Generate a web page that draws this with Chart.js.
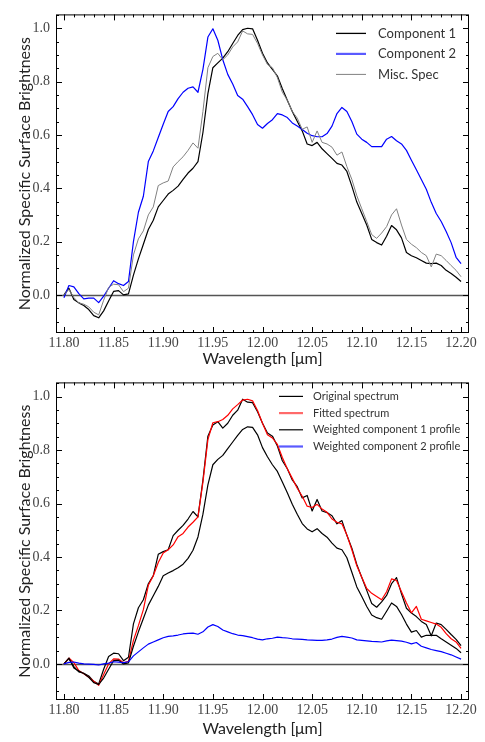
<!DOCTYPE html>
<html>
<head>
<meta charset="utf-8">
<script src="https://cdn.jsdelivr.net/npm/chart.js@4.4.0/dist/chart.umd.min.js"></script>
<style>
  html, body { margin: 0; padding: 0; background: #fff; }
  #wrap { position: relative; width: 485px; height: 742px; }
  canvas { position: absolute; left: 0; }
  #top { top: 0; }
  #bottom { top: 368px; }
</style>
</head>
<body>
<div id="wrap">
  <canvas id="top" width="485" height="368"></canvas>
  <canvas id="bottom" width="485" height="374"></canvas>
</div>
<script>
// wavelength grid (micron)
const wavelength = [
  11.800, 11.805, 11.810, 11.815, 11.820, 11.825, 11.830, 11.835, 11.840, 11.845,
  11.850, 11.855, 11.860, 11.865, 11.870, 11.875, 11.880, 11.885, 11.890, 11.895,
  11.900, 11.905, 11.910, 11.915, 11.920, 11.925, 11.930, 11.935, 11.940, 11.945,
  11.950, 11.955, 11.960, 11.965, 11.970, 11.975, 11.980, 11.985, 11.990, 11.995,
  12.000, 12.005, 12.010, 12.015, 12.020, 12.025, 12.030, 12.035, 12.040, 12.045,
  12.050, 12.055, 12.060, 12.065, 12.070, 12.075, 12.080, 12.085, 12.090, 12.095,
  12.100, 12.105, 12.110, 12.115, 12.120, 12.125, 12.130, 12.135, 12.140, 12.145,
  12.150, 12.155, 12.160, 12.165, 12.170, 12.175, 12.180, 12.185, 12.190, 12.195,
  12.200
];

const component1 = [
  0.0, 0.025, -0.017, -0.03, -0.04, -0.055, -0.078, -0.086, -0.06, -0.023,
  0.013, 0.016, 0.0, 0.004, 0.074, 0.135, 0.19, 0.245, 0.28, 0.33,
  0.354, 0.378, 0.392, 0.408, 0.433, 0.457, 0.475, 0.5, 0.609, 0.755,
  0.852, 0.87, 0.888, 0.912, 0.943, 0.973, 0.995, 1.0, 0.998, 0.955,
  0.906, 0.87, 0.846, 0.821, 0.773, 0.73, 0.688, 0.651, 0.615, 0.566,
  0.56, 0.572, 0.548, 0.53, 0.512, 0.493, 0.487, 0.463, 0.408, 0.348,
  0.305, 0.262, 0.208, 0.196, 0.187, 0.22, 0.26, 0.244, 0.214, 0.159,
  0.147, 0.139, 0.129, 0.119, 0.117, 0.119, 0.11, 0.092, 0.08, 0.066,
  0.05
];

const component2 = [
  -0.011, 0.035, 0.03, 0.005, -0.015, -0.012, -0.012, -0.029, -0.005, 0.025,
  0.053, 0.042, 0.035, 0.05, 0.2, 0.31, 0.37, 0.5, 0.54, 0.59,
  0.64, 0.688, 0.706, 0.736, 0.76, 0.775, 0.78, 0.76, 0.846, 0.967,
  0.998, 0.955, 0.882, 0.827, 0.791, 0.748, 0.734, 0.706, 0.676, 0.639,
  0.625, 0.643, 0.657, 0.68, 0.675, 0.665, 0.645, 0.633, 0.62, 0.606,
  0.597, 0.593, 0.593, 0.605, 0.633, 0.68, 0.703, 0.688, 0.65, 0.603,
  0.584, 0.572, 0.556, 0.556, 0.556, 0.584, 0.594, 0.578, 0.566, 0.542,
  0.505, 0.469, 0.433, 0.396, 0.347, 0.305, 0.275, 0.238, 0.196, 0.141,
  0.117
];

// observed spectrum ("Misc. Spec" on top, "Original spectrum" below)
const miscSpec = [
  0.0, 0.02, -0.01, -0.03, -0.035, -0.045, -0.065, -0.075, -0.02, 0.028,
  0.04, 0.038, 0.012, 0.025, 0.15, 0.21, 0.24, 0.3, 0.33, 0.41,
  0.42, 0.427, 0.48, 0.5, 0.518, 0.542, 0.57, 0.55, 0.688, 0.852,
  0.894, 0.906, 0.882, 0.9, 0.93, 0.949, 0.99, 0.979, 0.977, 0.943,
  0.9, 0.864, 0.852, 0.815, 0.76, 0.73, 0.688, 0.663, 0.621, 0.63,
  0.572, 0.615, 0.572, 0.566, 0.554, 0.524, 0.536, 0.481, 0.433, 0.372,
  0.323, 0.275, 0.226, 0.212, 0.232, 0.256, 0.30, 0.323, 0.262, 0.208,
  0.19, 0.177, 0.159, 0.147, 0.105, 0.153, 0.147, 0.129, 0.11, 0.092,
  0.068
];

const fitted = [
  0.0, 0.022, 0.005, -0.025, -0.037, -0.05, -0.065, -0.08, -0.04, 0.0,
  0.019, 0.018, 0.004, 0.01, 0.088, 0.143, 0.203, 0.294, 0.33, 0.379,
  0.415, 0.427, 0.445, 0.476, 0.488, 0.512, 0.53, 0.55, 0.68, 0.839,
  0.902, 0.906, 0.914, 0.93, 0.954, 0.97, 0.987, 0.99, 0.984, 0.948,
  0.9, 0.857, 0.845, 0.821, 0.772, 0.73, 0.694, 0.657, 0.627, 0.59,
  0.585, 0.597, 0.579, 0.567, 0.542, 0.53, 0.524, 0.482, 0.427, 0.367,
  0.324, 0.282, 0.264, 0.252, 0.24, 0.27, 0.318, 0.312, 0.27, 0.228,
  0.191, 0.215, 0.167, 0.161, 0.155, 0.149, 0.137, 0.113, 0.094, 0.082,
  0.058
];

const weighted1 = [
  0.0, 0.022, -0.015, -0.027, -0.036, -0.05, -0.07, -0.077, -0.053, -0.02,
  0.012, 0.014, 0.0, 0.004, 0.066, 0.12, 0.17, 0.22, 0.255, 0.29,
  0.33, 0.34, 0.349, 0.36, 0.373, 0.395, 0.425, 0.475, 0.56, 0.67,
  0.745, 0.765, 0.78, 0.805, 0.83, 0.855, 0.877, 0.887, 0.885, 0.857,
  0.809, 0.775, 0.745, 0.72, 0.68, 0.64, 0.597, 0.56, 0.525, 0.505,
  0.494, 0.506, 0.488, 0.474, 0.452, 0.433, 0.427, 0.397, 0.343, 0.288,
  0.252, 0.215, 0.183, 0.173, 0.167, 0.197, 0.228, 0.215, 0.185, 0.149,
  0.119, 0.125, 0.1, 0.107, 0.107, 0.107, 0.094, 0.082, 0.07, 0.058,
  0.042
];

const weighted2 = [
  0.0, 0.006, 0.007, 0.003, 0.0, -0.001, -0.002, -0.004, 0.0, 0.003,
  0.008, 0.007, 0.005, 0.008, 0.03, 0.045, 0.06, 0.074, 0.082, 0.09,
  0.098, 0.103, 0.105, 0.108, 0.112, 0.114, 0.115, 0.111, 0.12, 0.138,
  0.147, 0.14, 0.127, 0.12, 0.113, 0.108, 0.106, 0.102, 0.098, 0.093,
  0.09, 0.094, 0.096, 0.1, 0.098, 0.097, 0.094, 0.093, 0.092, 0.09,
  0.089, 0.088, 0.088, 0.09, 0.093, 0.099, 0.103, 0.1, 0.097, 0.09,
  0.088, 0.086, 0.084, 0.083, 0.082, 0.086, 0.089, 0.087, 0.085, 0.081,
  0.075, 0.08, 0.066, 0.06, 0.054, 0.05, 0.046, 0.04, 0.034, 0.026,
  0.018
];

const xTicks = [11.80, 11.85, 11.90, 11.95, 12.00, 12.05, 12.10, 12.15, 12.20];
const yTicks = [0.0, 0.2, 0.4, 0.6, 0.8, 1.0];

const X_MIN = 11.792, X_MAX = 12.208;

const TICK_FONT = { family: "'Liberation Serif', serif", size: 14 };
const TITLE_FONT = { family: "Lato, 'DejaVu Sans', sans-serif", size: 16 };

function pts(ys) {
  return wavelength.map((w, i) => ({ x: w, y: ys[i] }));
}

// inward ticks on all four sides, frame, zero line, legend
const axesDecor = {
  id: 'axesDecor',
  beforeDatasetsDraw(chart) {
    const { ctx, chartArea: a, scales: { y } } = chart;
    const y0 = Math.round(y.getPixelForValue(0)) + 0.5;
    ctx.save();
    ctx.strokeStyle = '#555';
    ctx.lineWidth = 1.5;
    ctx.beginPath();
    ctx.moveTo(a.left, y0);
    ctx.lineTo(a.right, y0);
    ctx.stroke();
    ctx.restore();
  },
  afterDatasetsDraw(chart) {
    const { ctx, chartArea: a, scales: { x, y } } = chart;
    ctx.save();
    ctx.strokeStyle = '#000';
    ctx.lineWidth = 1;
    ctx.strokeRect(a.left + 0.5, a.top + 0.5, a.right - a.left - 1, a.bottom - a.top - 1);
    ctx.beginPath();
    for (let k = Math.ceil(x.min * 100 - 1e-6); k <= Math.floor(x.max * 100 + 1e-6); k++) {
      const px = Math.round(x.getPixelForValue(k / 100)) + 0.5;
      const len = k % 5 === 0 ? 6 : 3;
      ctx.moveTo(px, a.bottom); ctx.lineTo(px, a.bottom - len);
      ctx.moveTo(px, a.top); ctx.lineTo(px, a.top + len);
    }
    for (let k = Math.ceil(y.min * 20 - 1e-6); k <= Math.floor(y.max * 20 + 1e-6); k++) {
      const py = Math.round(y.getPixelForValue(k / 20)) + 0.5;
      const len = k % 4 === 0 ? 6 : 3;
      ctx.moveTo(a.left, py); ctx.lineTo(a.left + len, py);
      ctx.moveTo(a.right, py); ctx.lineTo(a.right - len, py);
    }
    ctx.stroke();
    ctx.restore();
  },
  afterDraw(chart, args, opts) {
    const { ctx, chartArea: a } = chart;
    const L = opts;
    ctx.save();
    ctx.font = `${L.fontSize}px ${TITLE_FONT.family}`;
    ctx.textBaseline = 'middle';
    ctx.fillStyle = '#333';
    chart.data.datasets.forEach((ds, i) => {
      const yy = a.top + L.top + i * L.rowGap;
      ctx.strokeStyle = ds.legendColor || ds.borderColor;
      ctx.lineWidth = ds.legendWidth || ds.borderWidth;
      ctx.beginPath();
      ctx.moveTo(a.right - L.lineStart, yy);
      ctx.lineTo(a.right - L.lineEnd, yy);
      ctx.stroke();
      ctx.fillText(ds.label, a.right - L.textStart, yy);
    });
    ctx.restore();
  }
};

function scales(yMin, yMax, xHeight, xTitlePad) {
  return {
    x: {
      type: 'linear',
      min: X_MIN,
      max: X_MAX,
      afterBuildTicks: s => { s.ticks = xTicks.map(v => ({ value: v })); },
      afterFit: s => { s.height = xHeight; },
      grid: { display: false, drawTicks: false },
      border: { display: false },
      ticks: { padding: 2, color: '#444', font: TICK_FONT, maxRotation: 0, autoSkip: false,
               callback: v => v.toFixed(2) },
      title: { display: true, text: 'Wavelength [μm]', color: '#222', font: TITLE_FONT,
               padding: { top: 0, bottom: xTitlePad } }
    },
    y: {
      type: 'linear',
      min: yMin,
      max: yMax,
      afterBuildTicks: s => { s.ticks = yTicks.map(v => ({ value: v })); },
      afterFit: s => { s.width = 56; },
      grid: { display: false, drawTicks: false },
      border: { display: false },
      ticks: { padding: 6, color: '#444', font: TICK_FONT, callback: v => v.toFixed(1) },
      title: { display: true, text: 'Normalized Specific Surface Brightness', color: '#222',
               font: TITLE_FONT, padding: { top: 15, bottom: 0 } }
    }
  };
}

function line(label, ys, color, width, order, legendColor, legendWidth) {
  return {
    label, data: pts(ys), borderColor: color, borderWidth: width, order,
    legendColor, legendWidth,
    pointRadius: 0, tension: 0, fill: false, borderJoinStyle: 'round'
  };
}

new Chart(document.getElementById('top'), {
  type: 'line',
  data: {
    datasets: [
      line('Component 1', component1, '#000000', 1.2, 3, '#000000', 1.3),
      line('Component 2', component2, '#0000ff', 1.2, 2, '#5a5aff', 2.2),
      line('Misc. Spec', miscSpec, '#808080', 1.0, 1, '#808080', 1.0)
    ]
  },
  options: {
    responsive: false,
    animation: false,
    devicePixelRatio: 1,
    layout: { padding: { top: 5, right: 16, left: 0, bottom: 0 } },
    scales: scales(-0.143, 1.052, 35, 0),
    plugins: {
      legend: { display: false },
      tooltip: { enabled: false },
      axesDecor: { top: 19, rowGap: 20.5, lineStart: 133, lineEnd: 103, textStart: 91, fontSize: 13 }
    }
  },
  plugins: [axesDecor]
});

new Chart(document.getElementById('bottom'), {
  type: 'line',
  data: {
    datasets: [
      line('Original spectrum', miscSpec, '#000000', 1.2, 4, '#000000', 1.2),
      line('Fitted spectrum', fitted, '#ff0000', 1.2, 3, '#ff6a6a', 2.2),
      line('Weighted component 1 profile', weighted1, '#000000', 1.2, 2, '#000000', 1.2),
      line('Weighted component 2 profile', weighted2, '#0000ff', 1.2, 1, '#5a5aff', 2.2)
    ]
  },
  options: {
    responsive: false,
    animation: false,
    devicePixelRatio: 1,
    layout: { padding: { top: 5, right: 16, left: 0, bottom: 0 } },
    scales: scales(-0.135, 1.053, 42, 4),
    plugins: {
      legend: { display: false },
      tooltip: { enabled: false },
      axesDecor: { top: 14, rowGap: 16.7, lineStart: 190, lineEnd: 166, textStart: 156, fontSize: 11 }
    }
  },
  plugins: [axesDecor]
});
</script>
</body>
</html>
